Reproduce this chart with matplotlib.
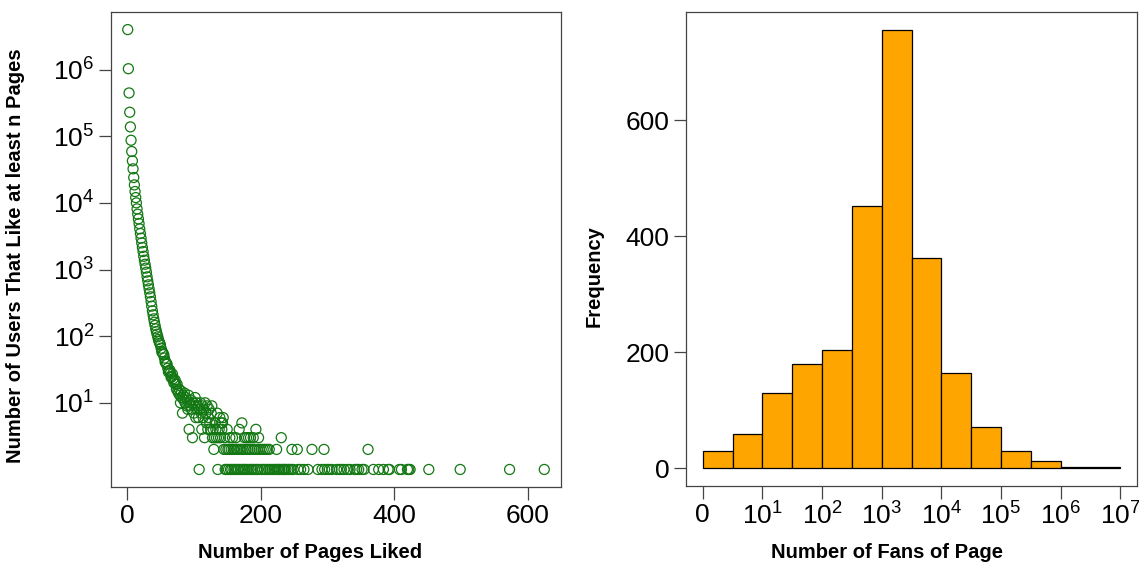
import numpy as np
import matplotlib
matplotlib.use("Agg")
import matplotlib.pyplot as plt
from matplotlib.ticker import FixedLocator, NullLocator

plt.rcParams["font.family"] = ["Liberation Sans", "DejaVu Sans"]
plt.rcParams["mathtext.fontset"] = "custom"
plt.rcParams["mathtext.rm"] = "Liberation Sans"
plt.rcParams["mathtext.it"] = "Liberation Sans:italic"
plt.rcParams["mathtext.bf"] = "Liberation Sans:bold"

# ---- left panel: users vs. number of pages liked ----
# smooth head of the distribution, n = 1..76
head_pages = list(range(1, 77))
head_users = [
    3980000, 1030000, 446000, 229000, 138000, 87000, 59000, 42700, 32400, 24000,
    18600, 14800, 12000, 10000, 8130, 6760, 5750, 4900, 4070, 3470,
    2950, 2510, 2140, 1860, 1580, 1380, 1200, 1050, 912, 776,
    676, 589, 513, 447, 389, 331, 282, 240, 209, 182,
    162, 145, 129, 117, 107, 98, 89, 83, 78, 74,
    66, 58, 58, 54, 53, 47, 41, 41, 38, 38,
    33, 29, 30, 31, 28, 24, 25, 27, 23, 20,
    21, 22, 19, 16, 19, 15,
]

# noisy middle section
mid_pages = [77, 78, 79, 80, 81, 82, 83, 84, 85, 86, 87, 88, 89, 90, 91, 92,
             94, 95, 96, 97, 99, 100, 101, 102, 103, 104, 105, 106, 107, 109,
             110, 111, 113, 114, 115, 117, 118, 119, 120, 122, 123, 124, 126,
             127, 132, 135, 139, 141, 143, 144, 172]
mid_users = [14, 16, 13, 10, 15, 12, 7, 13, 11, 14, 10, 12, 9, 11, 8, 13,
             10, 9, 11, 8, 10, 7, 9, 12, 6, 10, 8, 9, 6, 8,
             10, 7, 9, 6, 8, 10, 7, 5, 9, 6, 8, 5, 7,
             9, 5, 7, 6, 5, 5, 6, 5]

# sparse tail, grouped by count
pages_4 = [93, 112, 121, 125, 129, 133, 138, 142, 150, 168, 193]
pages_3 = [98, 116, 128, 131, 134, 137, 140, 146, 154, 158, 163, 176, 179,
           182, 185, 189, 197, 231]
pages_2 = [130, 145, 148, 151, 153, 156, 159, 161, 164, 166, 169, 171, 174,
           178, 181, 184, 187, 190, 192, 195, 198, 201, 204, 207, 210, 213,
           224, 247, 255, 277, 295, 361]
pages_1 = [108, 136, 147, 149, 152, 155, 157, 160, 162, 165, 167, 170, 173,
           175, 177, 180, 183, 186, 188, 191, 194, 196, 200, 203, 206, 209,
           212, 214, 217, 220, 222, 225, 227, 229, 232, 234, 236, 238, 241,
           243, 246, 249, 256, 260, 265, 271, 286, 292, 296, 300, 303, 307,
           314, 318, 321, 325, 330, 334, 341, 344, 347, 352, 355, 369, 377,
           384, 391, 393, 408, 411, 420, 422, 424, 452, 499, 573, 625]

# ---- right panel: histogram of log10(fans) ----
fan_bin_edges = [0, 0.5, 1, 1.5, 2, 2.5, 3, 3.5, 4, 4.5, 5, 5.5, 6, 6.5, 7]
fan_counts = [30, 60, 130, 180, 204, 452, 756, 362, 164, 72, 30, 12, 3, 2]
fan_tick_labels = ["0", "$10^1$", "$10^2$", "$10^3$", "$10^4$", "$10^5$",
                   "$10^6$", "$10^7$"]

pages = head_pages + mid_pages + pages_4 + pages_3 + pages_2 + pages_1
users = (head_users + mid_users + [4] * len(pages_4) + [3] * len(pages_3)
         + [2] * len(pages_2) + [1] * len(pages_1))

fig = plt.figure(figsize=(11.39, 5.71), dpi=100)
ax1 = fig.add_axes([0.0975, 0.147, 0.395, 0.832])
ax2 = fig.add_axes([0.6023, 0.149, 0.396, 0.830])

box_color = "#444444"
label_kw = dict(fontsize=14.5, fontweight="bold")
for ax in (ax1, ax2):
    for s in ax.spines.values():
        s.set_color(box_color)
        s.set_linewidth(0.9)
    ax.tick_params(direction="out", length=9, width=0.9, color=box_color,
                   labelsize=19, pad=3)

ax1.scatter(pages, users, s=52, facecolors="none", edgecolors="#137813",
            linewidths=0.9)
ax1.set_yscale("log")
ax1.margins(x=0.04, y=0.04)
ax1.xaxis.set_major_locator(FixedLocator([0, 200, 400, 600]))
ax1.yaxis.set_major_locator(FixedLocator([10, 1e2, 1e3, 1e4, 1e5, 1e6]))
ax1.yaxis.set_minor_locator(NullLocator())
ax1.set_yticklabels(["$10^{%d}$" % k for k in range(1, 7)])
ax1.set_xlabel("Number of Pages Liked", **label_kw)
ax1.set_ylabel("Number of Users That Like at least n Pages", **label_kw)
ax1.xaxis.set_label_coords(0.442, -0.118)
ax1.yaxis.set_label_coords(-0.191, 0.488)

widths = np.diff(fan_bin_edges)
ax2.bar(fan_bin_edges[:-1], fan_counts, width=widths, align="edge",
        color="#FFA500", edgecolor="black", linewidth=0.9)
ax2.use_sticky_edges = False
ax2.margins(x=0.04, y=0.04)
ax2.set_xticks(range(8))
ax2.set_xticklabels(fan_tick_labels)
ax2.set_yticks([0, 200, 400, 600])
ax2.set_xlabel("Number of Fans of Page", **label_kw)
ax2.set_ylabel("Frequency", **label_kw)
ax2.xaxis.set_label_coords(0.446, -0.120)
ax2.yaxis.set_label_coords(-0.182, 0.443)

fig.savefig("out.png", dpi=100)
